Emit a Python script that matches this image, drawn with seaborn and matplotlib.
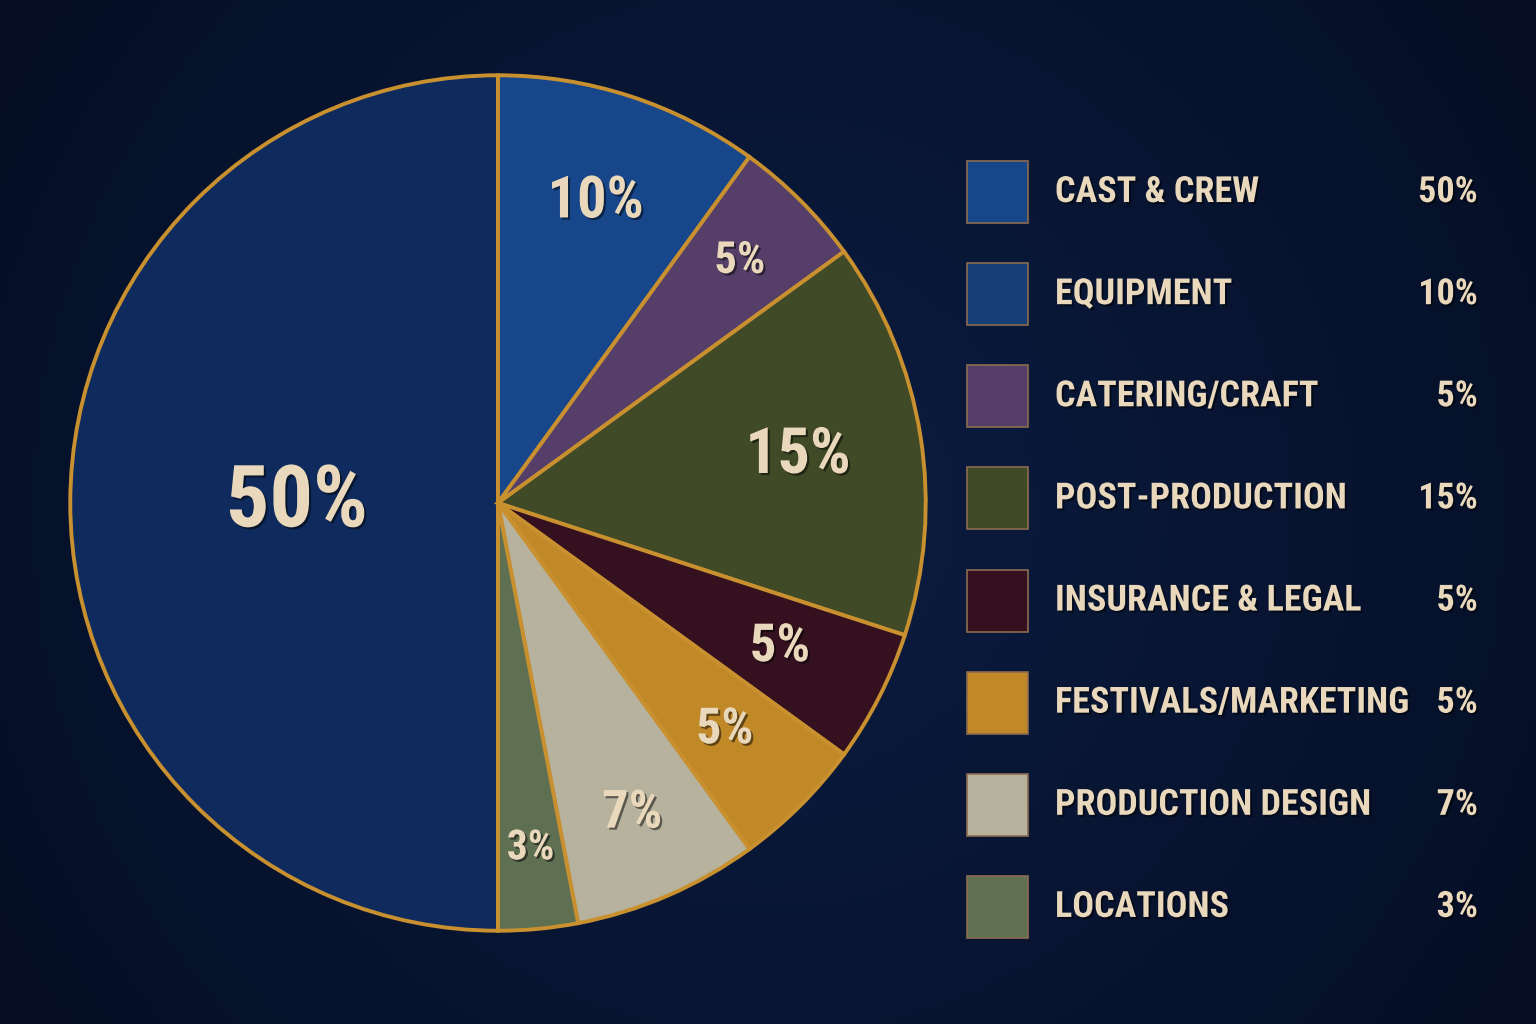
import numpy as np
import seaborn as sns
import matplotlib.pyplot as plt
import matplotlib.patheffects as pe
from matplotlib.patches import Rectangle

# data (legend order; pie goes clockwise from the bottom so Cast & Crew fills the left half)
categories = ["CAST & CREW", "EQUIPMENT", "CATERING/CRAFT", "POST-PRODUCTION",
              "INSURANCE & LEGAL", "FESTIVALS/MARKETING", "PRODUCTION DESIGN", "LOCATIONS"]
shares = [50, 10, 5, 15, 5, 5, 7, 3]
colors = ["#0f2b5e", "#17478a", "#553f69", "#414a27", "#35101f", "#c08827", "#b6b29e", "#5f6f52"]
legend_colors = ["#17478a", "#163f78", "#553f69", "#414a27", "#35101f", "#c08827", "#b6b29e", "#5f6f52"]
pct_sizes = [62, 42, 32, 46, 38, 36, 38, 30]
pct_dist = [0.47, 0.74, 0.80, 0.71, 0.74, 0.75, 0.79, 0.81]

BG = "#0a1834"
GOLD = "#c8902f"
CREAM = "#e9d8bb"

sns.set_theme(style="dark", rc={"figure.facecolor": BG, "axes.facecolor": BG})
plt.rcParams["font.family"] = ["Liberation Sans Narrow", "DejaVu Sans Condensed",
                               "Roboto Condensed", "Roboto", "DejaVu Sans"]
plt.rcParams["font.weight"] = "bold"

fig = plt.figure(figsize=(15.36, 10.24), dpi=100)

# background vignette
bg = fig.add_axes([0, 0, 1, 1])
yy, xx = np.mgrid[0:1:200j, 0:1.5:300j]
d = np.sqrt((xx - 0.75) ** 2 + (yy - 0.5) ** 2)
bg.imshow(-d, cmap=sns.blend_palette(["#050e24", "#0c1d42"], as_cmap=True),
          extent=[0, 1, 0, 1], aspect="auto")
bg.axis("off")

shadow = [pe.withSimplePatchShadow(offset=(1.5, -1.5), shadow_rgbFace="#000000", alpha=0.5)]

# pie
cx, cy, r = 498, 503, 432
ax = fig.add_axes([(cx - r) / 1536, (1024 - cy - r) / 1024, 2 * r / 1536, 2 * r / 1024])
wedges, _ = ax.pie(shares, colors=colors, startangle=270, counterclock=False,
                   wedgeprops=dict(edgecolor=GOLD, linewidth=2.8))
ax.set_xlim(-1.01, 1.01)
ax.set_ylim(-1.01, 1.01)
ax.set_aspect("equal")
ax.axis("off")

for w, s, fs, dist in zip(wedges, shares, pct_sizes, pct_dist):
    ang = np.deg2rad((w.theta1 + w.theta2) / 2)
    ax.text(dist * np.cos(ang), dist * np.sin(ang), f"{s}%", ha="center", va="center",
            fontsize=fs, color=CREAM, fontweight="bold", path_effects=shadow)

# legend panel
leg = fig.add_axes([960 / 1536, (1024 - 958) / 1024, 540 / 1536, 817 / 1024])
leg.set_xlim(0, 540)
leg.set_ylim(len(categories) - 0.5, -0.5)
leg.axis("off")
for i, (name, s, c) in enumerate(zip(categories, shares, legend_colors)):
    leg.add_patch(Rectangle((7, i - 0.303), 61, 0.607, facecolor=c,
                            edgecolor="#8c6c50", linewidth=1.2))
    leg.text(95, i, name, ha="left", va="center", fontsize=26, color=CREAM,
             fontweight="bold", path_effects=shadow)
    leg.text(518, i, f"{s}%", ha="right", va="center", fontsize=26, color=CREAM,
             fontweight="bold", path_effects=shadow)

fig.savefig("out.png", dpi=100, facecolor=BG)
